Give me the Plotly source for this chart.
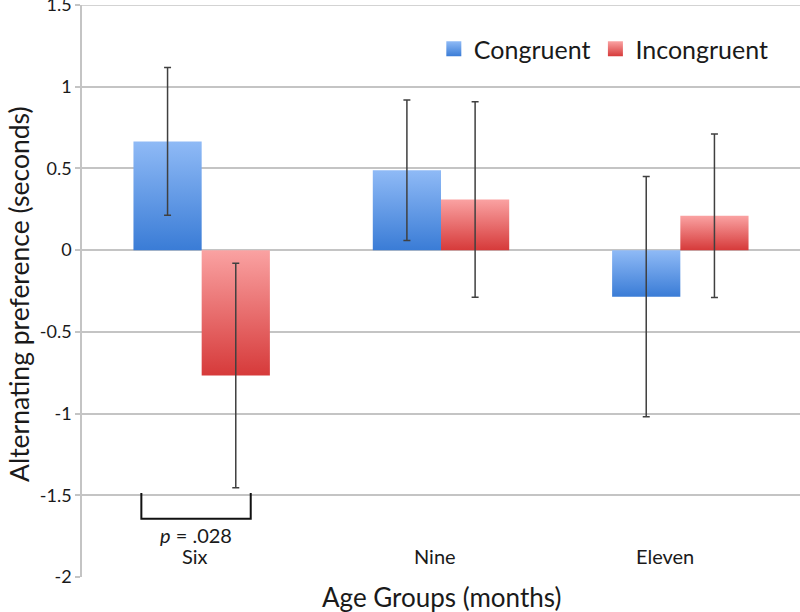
"""Alternating preference by age group, congruent vs incongruent (bar chart with error bars)."""

import plotly.graph_objects as go

# -- Data -------------------------------------------------------------------

categories = ["Six", "Nine", "Eleven"]
congruent = [0.665, 0.489, -0.285]
incongruent = [-0.767, 0.31, 0.21]
congruent_err = [0.452, 0.43, 0.735]
incongruent_err = [0.687, 0.598, 0.5]

y_ticks = [1.5, 1, 0.5, 0, -0.5, -1, -1.5, -2]
y_tick_labels = ["1.5", "1", "0.5", "0", "-0.5", "-1", "-1.5", "-2"]

series_names = ["Congruent", "Incongruent"]
p_label = "<i>p</i> = .028"

# -- Style ------------------------------------------------------------------

FONT = "Lato, Calibri, Carlito, sans-serif"
TEXT_COLOR = "#1a1a1a"
GRID_COLOR = "#c4c4c4"
ERR_COLOR = "#404040"
BAR_WIDTH = 0.285

# (bottom colour, top colour) for each series' vertical gradient
SERIES_COLORS = [
    ("rgb(58,124,214)", "rgb(143,186,246)"),
    ("rgb(214,58,58)", "rgb(250,162,162)"),
]


def _bar_trace(cx, value, colors):
    """One bar as a filled rectangle so it can carry a vertical gradient."""
    x0, x1 = cx - BAR_WIDTH / 2, cx + BAR_WIDTH / 2
    return go.Scatter(
        x=[x0, x0, x1, x1, x0],
        y=[0, value, value, 0, 0],
        mode="lines",
        line=dict(width=0),
        fill="toself",
        fillgradient=dict(
            type="vertical",
            colorscale=[[0, colors[0]], [1, colors[1]]],
        ),
        hoverinfo="skip",
        showlegend=False,
    )


fig = go.Figure()

values = [congruent, incongruent]
errors = [congruent_err, incongruent_err]
offsets = [-BAR_WIDTH / 2, BAR_WIDTH / 2]

# Bars
for vals, off, colors in zip(values, offsets, SERIES_COLORS):
    for i, v in enumerate(vals):
        fig.add_trace(_bar_trace(i + off, v, colors))

# Error bars on top of the bars
for vals, errs, off in zip(values, errors, offsets):
    fig.add_trace(
        go.Scatter(
            x=[i + off for i in range(len(vals))],
            y=vals,
            mode="markers",
            marker=dict(size=1, color="rgba(0,0,0,0)"),
            error_y=dict(
                type="data",
                array=errs,
                color=ERR_COLOR,
                thickness=1.5,
                width=3.5,
            ),
            hoverinfo="skip",
            showlegend=False,
        )
    )

# Legend entries
for name, colors in zip(series_names, SERIES_COLORS):
    fig.add_trace(
        go.Scatter(
            x=[None],
            y=[None],
            mode="markers",
            name=name,
            marker=dict(
                symbol="square",
                size=15,
                color=colors[1],
                gradient=dict(type="vertical", color=colors[0]),
                line=dict(width=0),
            ),
        )
    )

# Top gridline (plotly skips the one on the plot edge)
fig.add_shape(
    type="line",
    xref="paper",
    yref="y",
    x0=0,
    x1=1,
    y0=y_ticks[0],
    y1=y_ticks[0],
    line=dict(color=GRID_COLOR, width=1.5),
    layer="below",
)

# Significance bracket under the Six group
fig.add_shape(
    type="path",
    path="M -0.252,-1.486 L -0.252,-1.644 L 0.205,-1.644 L 0.205,-1.486",
    xref="x",
    yref="y",
    line=dict(color="#111111", width=2),
)
fig.add_annotation(
    x=-0.024,
    y=-1.744,
    xref="x",
    yref="y",
    text=p_label,
    showarrow=False,
    font=dict(family=FONT, size=20, color=TEXT_COLOR),
)

# Category labels sit just above the bottom gridline
label_shift = [-7, -6, -15]
for i, cat in enumerate(categories):
    fig.add_annotation(
        x=i,
        y=-2,
        xref="x",
        yref="y",
        yanchor="bottom",
        yshift=7,
        xshift=label_shift[i],
        text=cat,
        showarrow=False,
        font=dict(family=FONT, size=20, color=TEXT_COLOR),
    )

# Axis titles
fig.add_annotation(
    x=0.5,
    y=-0.035,
    xref="paper",
    yref="paper",
    xanchor="center",
    yanchor="middle",
    text="Age Groups (months)",
    showarrow=False,
    font=dict(family=FONT, size=26, color=TEXT_COLOR),
)
fig.add_annotation(
    x=-0.087,
    y=0.494,
    xref="paper",
    yref="paper",
    xanchor="center",
    yanchor="middle",
    textangle=-90,
    text="Alternating preference (seconds)",
    showarrow=False,
    font=dict(family=FONT, size=26.5, color=TEXT_COLOR),
)

fig.update_layout(
    width=800,
    height=612,
    margin=dict(l=82, r=0, t=5, b=35),
    paper_bgcolor="white",
    plot_bgcolor="white",
    font=dict(family=FONT, color=TEXT_COLOR),
    xaxis=dict(
        range=[-0.5, 2.5],
        showgrid=False,
        zeroline=False,
        showticklabels=False,
        showline=False,
        automargin=False,
        fixedrange=True,
    ),
    yaxis=dict(
        range=[-2, 1.5],
        tickvals=y_ticks,
        ticktext=y_tick_labels,
        tickfont=dict(family=FONT, size=18, color=TEXT_COLOR),
        ticklabeloverflow="allow",
        automargin=False,
        showgrid=True,
        gridcolor=GRID_COLOR,
        gridwidth=1.5,
        zeroline=True,
        zerolinecolor=GRID_COLOR,
        zerolinewidth=1.5,
        showline=True,
        linecolor=GRID_COLOR,
        linewidth=1.5,
        ticks="outside",
        ticklen=5,
        tickcolor=GRID_COLOR,
        tickwidth=1.5,
        fixedrange=True,
    ),
    legend=dict(
        orientation="h",
        x=0.49,
        y=0.923,
        xanchor="left",
        yanchor="middle",
        font=dict(family=FONT, size=25, color=TEXT_COLOR),
        bgcolor="rgba(0,0,0,0)",
        itemclick=False,
        itemdoubleclick=False,
    ),
    showlegend=True,
)

# The page body has a default 8px margin; drop it so the figure fills the window.
fig.write_html(
    "out.html",
    config={"displayModeBar": False},
    post_script="document.body.style.margin='0';",
)
